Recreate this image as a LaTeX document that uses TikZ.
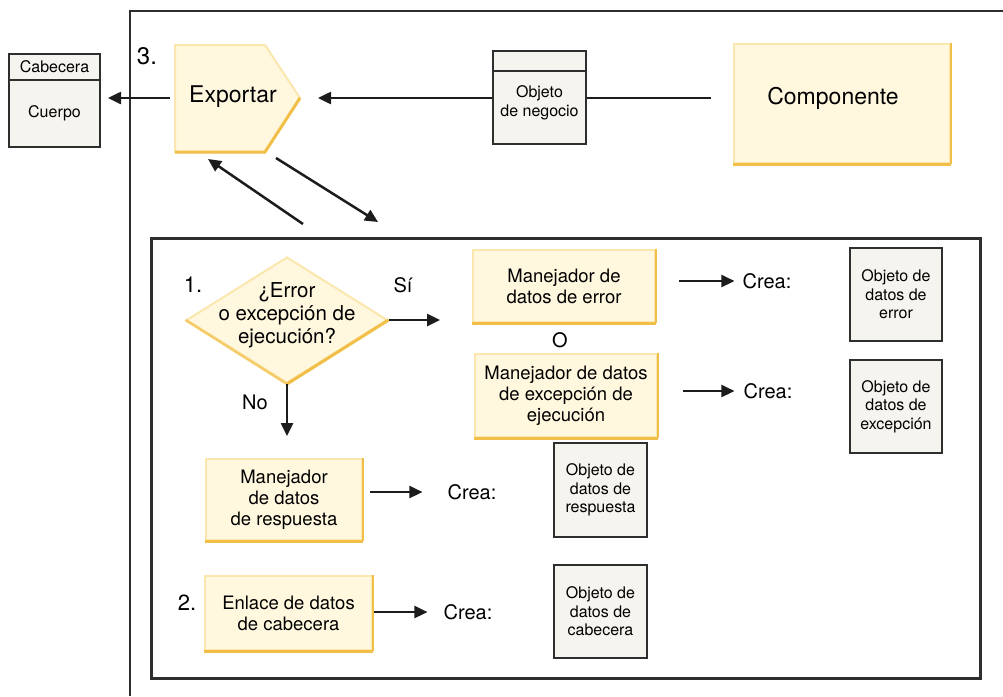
\documentclass[tikz,border=0pt]{standalone}
\usepackage{fontspec}
\setmainfont{TeX Gyre Heros}
\usetikzlibrary{arrows.meta,shapes.geometric}
\definecolor{yfill}{HTML}{FFF8DE}
\definecolor{ylight}{HTML}{FBE6AE}
\definecolor{ydark}{HTML}{F1BF48}
\definecolor{gfill}{HTML}{F6F4EE}
\definecolor{gline}{HTML}{2E2E2E}
\definecolor{ink}{HTML}{1C1C1C}
\tikzset{
  conn/.style={draw=ink, line width=2.5pt},
  arr/.style={conn, -{Triangle[length=13pt,width=12pt]}},
  ybox/.style={fill=yfill, draw=ylight, line width=2pt, inner sep=0pt, align=center,
    append after command={(\tikzlastnode.south west) edge[draw=ydark,line width=3pt] (\tikzlastnode.south east)
      (\tikzlastnode.south east) edge[draw=ydark,line width=2pt] (\tikzlastnode.north east)}},
  gbox/.style={fill=gfill, draw=gline, line width=2pt, inner sep=0pt, align=center,
    font=\fontsize{16}{18.5}\selectfont},
  bigtxt/.style={font=\fontsize{23}{27}\selectfont},
  midtxt/.style={font=\fontsize{18.5}{21}\selectfont},
  txt/.style={inner sep=0pt, font=\fontsize{20}{23}\selectfont},
  numtxt/.style={inner sep=0pt, font=\fontsize{22}{26}\selectfont},
}
\begin{document}
\begin{tikzpicture}[x=1pt,y=-1pt]
\useasboundingbox (0,0) rectangle (1003,696);
% frame
\draw[draw=gline, line width=2pt] (130,696) |- (1003,11);
% message
\node[gbox, minimum width=91pt, minimum height=26pt] (hdrt) at (54.5,67) {Cabecera};
\node[gbox, minimum width=91pt, minimum height=67pt] (hdrb) at (54.5,113.5) {Cuerpo};
% export
\coordinate (pw) at (175,98);
\coordinate (tip) at (300,98);
\draw[fill=yfill, draw=ylight, line width=2pt] (175,45) -- (265,45) -- (tip) -- (265,152) -- (175,152) -- cycle;
\draw[draw=ydark, line width=3pt] (175,152) -- (265,152) -- (tip);
\node[bigtxt] (exp) at (233,97) {Exportar};
\node[numtxt, font=\fontsize{24}{28}\selectfont] (n3) at (147,56) {3.};
\node[gbox, minimum width=93pt, minimum height=20pt] (botop) at (539.5,61) {};
\node[gbox, minimum width=93pt, minimum height=73pt] (bo) at (539.5,107.5) {};
\node[align=center, inner sep=0pt, font=\fontsize{16}{18.5}\selectfont] (botxt) at (539.5,103) {Objeto\\de negocio};
\node[ybox, minimum width=216pt, minimum height=119pt] (comp) at (842,103.5) {};
\node[bigtxt, inner sep=0pt] (compt) at (833,98) {Componente};
\draw[arr, shorten <=5pt, shorten >=7pt] (pw) -- (hdrb.east |- pw);
\draw[arr, shorten >=18pt] (bo.west |- tip) -- (tip);
\draw[conn, shorten >=22pt] (bo.east |- tip) -- (comp.west |- tip);
\coordinate (d1) at (303,224);
\coordinate (d2) at (208,159);
\coordinate (d3) at (276,158);
\coordinate (d4) at (378,222);
\draw[arr] (d1) -- (d2);
\draw[arr] (d3) -- (d4);
% handlers
\node[draw=gline, line width=3pt, inner sep=0pt, minimum width=829pt, minimum height=440pt] (rt) at (565.5,458) {};
\node[diamond, inner sep=0pt, minimum width=201pt, minimum height=126pt, fill=yfill, draw=ylight, line width=2pt,
  append after command={(\tikzlastnode.west) edge[draw=ydark!70!ylight,line width=2.5pt] (\tikzlastnode.south)
    (\tikzlastnode.south) edge[draw=ydark,line width=3pt] (\tikzlastnode.east)}] (q) at (287,320) {};
\node[align=center, inner sep=0pt, font=\fontsize{20.5}{23}\selectfont] (qt) at (287,315) {¿Error\\o excepción de\\ejecución?};
\node[numtxt] (n1) at (193,285) {1.};
\node[txt] (si) at (403,285) {Sí};
\node[txt] (no) at (255,402) {No};
\node[ybox, midtxt, minimum width=182pt, minimum height=72pt] (err) at (564,286) {Manejador de\\datos de error};
\node[txt] (o) at (560,340) {O};
\node[ybox, midtxt, minimum width=182pt, minimum height=83pt] (exc) at (566,395.5) {Manejador de datos\\de excepción de\\ejecución};
\node[ybox, midtxt, minimum width=156pt, minimum height=81pt] (resp) at (284,499.5) {Manejador\\de datos\\de respuesta};
\node[ybox, midtxt, minimum width=167pt, minimum height=74pt] (enl) at (288.5,613) {Enlace de datos\\de cabecera};
\node[numtxt] (n2) at (187,603) {2.};
\node[txt] (crea1) at (767,281) {Crea:};
\node[txt] (crea2) at (768,391) {Crea:};
\node[txt] (crea3) at (472,492) {Crea:};
\node[txt] (crea4) at (468,612) {Crea:};
\node[gbox, minimum width=92pt, minimum height=93pt] (oerr) at (896,294.5) {Objeto de\\datos de\\error};
\node[gbox, minimum width=92pt, minimum height=93pt] (oexc) at (896,406.5) {Objeto de\\datos de\\excepción};
\node[gbox, minimum width=93pt, minimum height=94pt] (oresp) at (600.5,490) {Objeto de\\datos de\\respuesta};
\node[gbox, minimum width=93pt, minimum height=93pt] (ocab) at (600.5,611.5) {Objeto de\\datos de\\cabecera};
\draw[arr, shorten >=32pt] (q.east) -- (q.east -| err.west);
\draw[arr, shorten >=22pt] (q.south) -- (q.south |- resp.north);
\draw[arr, shorten <=23pt, shorten >=8pt] (err.east |- crea1) -- (crea1.west);
\draw[arr, shorten <=25pt, shorten >=9pt] (exc.east |- crea2) -- (crea2.west);
\draw[arr, shorten <=7pt, shorten >=25pt] (resp.east |- crea3) -- (crea3.west);
\draw[arr, shorten <=1pt, shorten >=16pt] (enl.east |- crea4) -- (crea4.west);
\end{tikzpicture}
\end{document}
